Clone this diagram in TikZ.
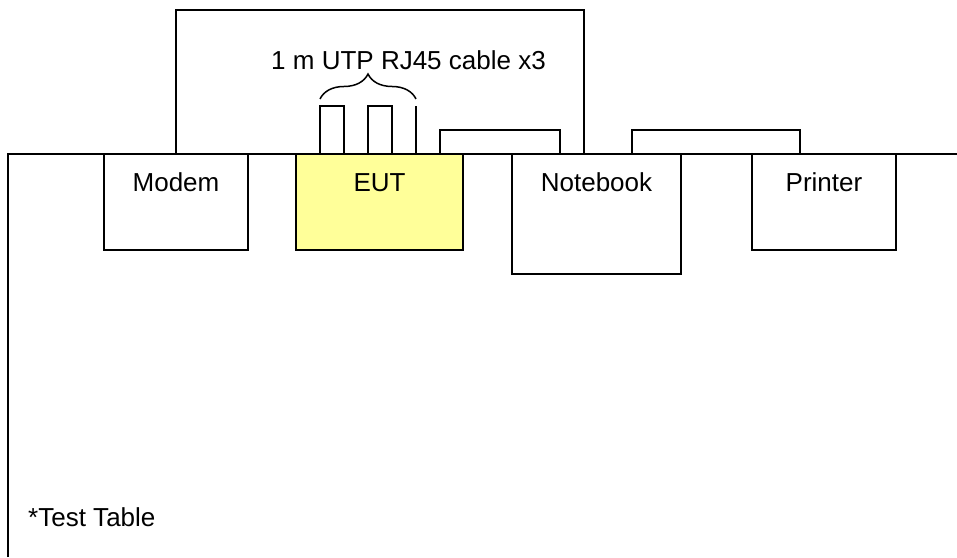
\documentclass[tikz,border=0pt]{standalone}
\usepackage{fontspec}
\setmainfont{Liberation Sans}
\usetikzlibrary{positioning, decorations.pathreplacing}
\definecolor{eutyellow}{HTML}{FFFF99}
\tikzset{
  wire/.style={line width=1.5pt},
  device/.style={draw, line width=1.5pt, minimum height=96pt, inner sep=0pt, outer sep=0pt, anchor=north west},
  eutbox/.style={device, fill=eutyellow},
  devlabel/.style={font=\fontsize{26}{31}\selectfont, inner sep=0pt, anchor=base},
  cablebrace/.style={wire, decorate, decoration={brace, amplitude=25pt}}
}

\begin{document}
\begin{tikzpicture}[x=1pt, y=1pt]
  \useasboundingbox (0,0) rectangle (957,557);

  % Table
  \coordinate (tablecorner) at (8,403);
  \draw[wire] (8,0) -- (tablecorner) -- (957,403);
  \node[devlabel, anchor=base west] (tabletxt) at (28,31) {*Test Table};

  % Nodes
  \node[device, minimum width=144pt] (modem) at (104,403) {};
  \node[eutbox, minimum width=167pt, right=48pt of modem.north east, anchor=north west] (eut) {};
  \node[device, minimum width=169pt, minimum height=120pt, right=49pt of eut.north east, anchor=north west] (notebook) {};
  \node[device, minimum width=144pt, right=71pt of notebook.north east, anchor=north west] (printer) {};

  \node[devlabel] (modemtxt) at ([yshift=-38pt]modem.north) {Modem};
  \node[devlabel] (euttxt) at ([yshift=-38pt]eut.north) {EUT};
  \node[devlabel] (notebooktxt) at ([yshift=-38pt]notebook.north) {Notebook};
  \node[devlabel] (printertxt) at ([yshift=-38pt]printer.north) {Printer};

  % Cables
  \draw[wire] (modem.north) -- ++(0,144) -| ([xshift=-12.5pt]notebook.north);
  \draw[wire] ([xshift=60.5pt]eut.north) -- ++(0,24) -| ([xshift=-36.5pt]notebook.north);
  \draw[wire] ([xshift=35.5pt]notebook.north) -- ++(0,24) -| ([xshift=-24pt]printer.north);

  % UTP cables on the EUT
  \foreach \dx in {24,72}
    \draw[wire] ([xshift=\dx pt]eut.north west) -- ++(0,48) -- ++(24,0) -- ++(0,-48);
  \draw[wire] ([xshift=120pt]eut.north west) -- ++(0,48);

  \coordinate (bracel) at ([xshift=24pt, yshift=55pt]eut.north west);
  \coordinate (bracer) at ([xshift=120pt, yshift=55pt]eut.north west);
  \draw[cablebrace] (bracel) -- (bracer);
  \node[devlabel] (cabletxt) at (408.5,487) {1 m UTP RJ45 cable x3};
\end{tikzpicture}
\end{document}
